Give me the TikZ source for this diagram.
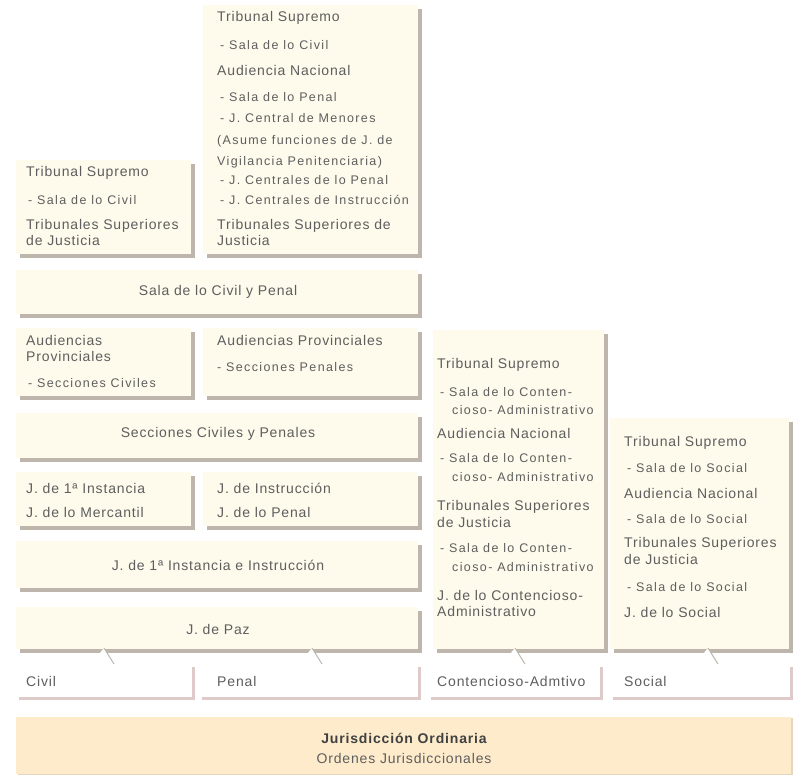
\documentclass[tikz,border=0pt]{standalone}
\usepackage{fontspec}
\setmainfont{Liberation Sans}
\newfontfamily\mfont[LetterSpace=6]{Liberation Sans}
\newfontfamily\sfont[LetterSpace=11]{Liberation Sans}
\usetikzlibrary{shadows,calc}
\definecolor{cream}{HTML}{FEFAEC}
\definecolor{shad}{HTML}{BEB6AD}
\definecolor{txt}{HTML}{5E5E5E}
\definecolor{peach}{HTML}{FDEBCB}
\definecolor{pinkshad}{HTML}{DFCACA}
\tikzset{
  panel/.style={fill=cream, anchor=north west, inner sep=0pt, outer sep=0pt,
    drop shadow={shadow xshift=4pt, shadow yshift=-4pt, fill=shad, opacity=1}},
  catbox/.style={fill=white, anchor=north west, inner sep=0pt, outer sep=0pt,
    drop shadow={shadow xshift=3pt, shadow yshift=-3pt, fill=pinkshad, opacity=1}},
  basebox/.style={fill=peach, anchor=north west, inner sep=0pt, outer sep=0pt,
    drop shadow={shadow xshift=2pt, shadow yshift=-1pt, fill=peach!80!gray, opacity=1}},
  mt/.style={anchor=west, inner sep=0pt, text=txt, font=\mfont\fontsize{14}{16}\selectfont},
  st/.style={anchor=west, inner sep=0pt, text=txt, font=\sfont\fontsize{12.5}{14}\selectfont},
  ct/.style={anchor=center, inner sep=0pt, text=txt, font=\mfont\fontsize{14}{16}\selectfont},
  tailfill/.style={fill=white, draw=none},
  tailline/.style={draw=shad, line width=1pt}
}
\begin{document}
\begin{tikzpicture}[x=1pt,y=-1pt]
\useasboundingbox (0,0) rectangle (795,776);
% panels
\node[panel, minimum width=175pt, minimum height=94pt] (tsl) at (16,160) {};
\node[panel, minimum width=215pt, minimum height=249pt] (tsr) at (203,5) {};
\node[panel, minimum width=402pt, minimum height=44pt] (scp) at (16,270) {};
\node[panel, minimum width=175pt, minimum height=68pt] (apl) at (16,328) {};
\node[panel, minimum width=215pt, minimum height=68pt] (apr) at (203,328) {};
\node[panel, minimum width=402pt, minimum height=45pt] (scyp) at (16,413) {};
\node[panel, minimum width=175pt, minimum height=54pt] (jpi) at (16,472) {};
\node[panel, minimum width=215pt, minimum height=54pt] (jin) at (203,472) {};
\node[panel, minimum width=402pt, minimum height=47pt] (jpii) at (16,541) {};
\node[panel, minimum width=402pt, minimum height=42pt] (jpaz) at (16,607) {};
\node[panel, minimum width=171pt, minimum height=319pt] (cont) at (433,330) {};
\node[panel, minimum width=179pt, minimum height=231pt] (soc) at (610,418) {};
% category boxes
\node[catbox, minimum width=176pt, minimum height=33pt] (civil) at (16,664) {};
\node[catbox, minimum width=219pt, minimum height=33pt] (penal) at (199,664) {};
\node[catbox, minimum width=172pt, minimum height=33pt] (conta) at (428,664) {};
\node[catbox, minimum width=180pt, minimum height=33pt] (social) at (610,664) {};
% base
\node[basebox, minimum width=775pt, minimum height=57pt] (jo) at (16,717) {};
% tails (category -> order panel)
\coordinate (ta1) at ($(jpaz.south west)+(88,-1)$);
\coordinate (tb1) at ($(civil.north west)+(98,0)$);
\fill[tailfill] ($(ta1)+(-5,6)$) -- (ta1) -- (tb1) -- ($(tb1)+(-7,0)$) -- cycle;
\draw[tailline] (ta1) -- (tb1);
\coordinate (ta2) at ($(jpaz.south west)+(296,-1)$);
\coordinate (tb2) at ($(penal.north west)+(123,0)$);
\fill[tailfill] ($(ta2)+(-5,6)$) -- (ta2) -- (tb2) -- ($(tb2)+(-7,0)$) -- cycle;
\draw[tailline] (ta2) -- (tb2);
\coordinate (ta3) at ($(cont.south west)+(82,-1)$);
\coordinate (tb3) at ($(conta.north west)+(97,0)$);
\fill[tailfill] ($(ta3)+(-5,6)$) -- (ta3) -- (tb3) -- ($(tb3)+(-7,0)$) -- cycle;
\draw[tailline] (ta3) -- (tb3);
\coordinate (ta4) at ($(soc.south west)+(98,-1)$);
\coordinate (tb4) at ($(social.north west)+(108,0)$);
\fill[tailfill] ($(ta4)+(-5,6)$) -- (ta4) -- (tb4) -- ($(tb4)+(-7,0)$) -- cycle;
\draw[tailline] (ta4) -- (tb4);
% texts: left top panel
\node[mt] (a1) at (26,173) {Tribunal Supremo};
\node[st] (a2) at (28,200) {- Sala de lo Civil};
\node[mt] (a3) at (26,226) {Tribunales Superiores};
\node[mt] (a4) at (26,240) {de Justicia};
% right top panel
\node[mt] (b1) at (217,18) {Tribunal Supremo};
\node[st] (b2) at (220,45) {- Sala de lo Civil};
\node[mt] (b3) at (217,70) {Audiencia Nacional};
\node[st] (b4) at (220,97) {- Sala de lo Penal};
\node[st] (b5) at (220,118) {- J. Central de Menores};
\node[st] (b6) at (217,141) {(Asume funciones de J. de};
\node[st] (b7) at (217,162) {Vigilancia Penitenciaria)};
\node[st] (b8) at (220,180) {- J. Centrales de lo Penal};
\node[st] (b9) at (220,200) {- J. Centrales de Instrucción};
\node[mt] (b10) at (217,226) {Tribunales Superiores de};
\node[mt] (b11) at (217,240) {Justicia};
% rows
\node[ct] (c1) at (218,292) {Sala de lo Civil y Penal};
\node[mt] (d1) at (26,340) {Audiencias};
\node[mt] (d2) at (26,356) {Provinciales};
\node[st] (d3) at (28,383) {- Secciones Civiles};
\node[mt] (e1) at (217,340) {Audiencias Provinciales};
\node[st] (e2) at (217,367) {- Secciones Penales};
\node[ct] (f1) at (218,434) {Secciones Civiles y Penales};
\node[mt] (g1) at (26,488) {J. de 1ª Instancia};
\node[mt] (g2) at (26,512) {J. de lo Mercantil};
\node[mt] (h1) at (217,488) {J. de Instrucción};
\node[mt] (h2) at (217,512) {J. de lo Penal};
\node[ct] (i1) at (218,565) {J. de 1ª Instancia e Instrucción};
\node[ct] (j1) at (218,629) {J. de Paz};
% contencioso
\node[mt] (k1) at (437,365) {Tribunal Supremo};
\node[st] (k2) at (440,392) {- Sala de lo Conten-};
\node[st] (k3) at (452,410) {cioso- Administrativo};
\node[mt] (k4) at (437,433) {Audiencia Nacional};
\node[st] (k5) at (440,458) {- Sala de lo Conten-};
\node[st] (k6) at (452,477) {cioso- Administrativo};
\node[mt] (k7) at (437,507) {Tribunales Superiores};
\node[mt] (k8) at (437,522) {de Justicia};
\node[st] (k9) at (440,548) {- Sala de lo Conten-};
\node[st] (k10) at (452,567) {cioso- Administrativo};
\node[mt] (k11) at (437,595) {J. de lo Contencioso-};
\node[mt] (k12) at (437,611) {Administrativo};
% social
\node[mt] (l1) at (624,443) {Tribunal Supremo};
\node[st] (l2) at (627,468) {- Sala de lo Social};
\node[mt] (l3) at (624,493) {Audiencia Nacional};
\node[st] (l4) at (627,519) {- Sala de lo Social};
\node[mt] (l5) at (624,544) {Tribunales Superiores};
\node[mt] (l6) at (624,559) {de Justicia};
\node[st] (l7) at (627,587) {- Sala de lo Social};
\node[mt] (l8) at (624,612) {J. de lo Social};
% categories
\node[mt] (m1) at (26,681) {Civil};
\node[mt] (m2) at (217,681) {Penal};
\node[mt] (m3) at (437,681) {Contencioso-Admtivo};
\node[mt] (m4) at (624,681) {Social};
% base text
\node[ct, font=\mfont\bfseries\fontsize{14}{16}\selectfont, text=black!75] (n1) at (404,738) {Jurisdicción Ordinaria};
\node[ct] (n2) at (404,758) {Ordenes Jurisdiccionales};
\end{tikzpicture}
\end{document}
